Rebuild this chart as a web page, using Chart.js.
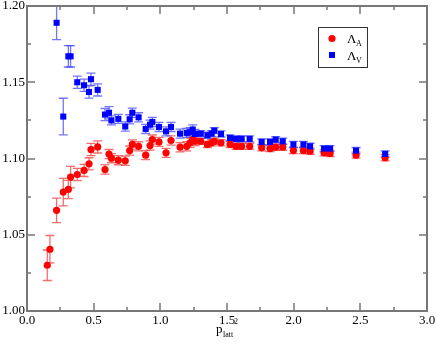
<!DOCTYPE html>
<html>
<head>
<meta charset="utf-8">
<script src="https://cdn.jsdelivr.net/npm/chart.js@4/dist/chart.umd.min.js"></script>
<style>
  html, body { margin: 0; padding: 0; background: #fff; }
  #wrap { width: 436px; height: 347px; position: relative; }
</style>
</head>
<body>
<div id="wrap"><canvas id="chart"></canvas></div>
<script>
// p_latt^2 values (shared by both series)
const xValues = [0.152, 0.172, 0.222, 0.272, 0.31, 0.327, 0.377, 0.428, 0.465, 0.48,
  0.53, 0.585, 0.615, 0.633, 0.685, 0.737, 0.77, 0.79, 0.837, 0.89,
  0.923, 0.94, 0.99, 1.043, 1.08, 1.148, 1.198, 1.223, 1.243, 1.26,
  1.303, 1.353, 1.385, 1.405, 1.455, 1.523, 1.568, 1.61, 1.67, 1.76,
  1.823, 1.865, 1.918, 1.998, 2.073, 2.123, 2.228, 2.273, 2.468, 2.686];

const lambdaA = [1.030, 1.0405, 1.066, 1.078, 1.0797, 1.0878, 1.0895, 1.0922, 1.0965, 1.1059,
  1.1076, 1.0928, 1.1029, 1.1002, 1.0989, 1.0985, 1.1052, 1.1092, 1.108, 1.1022,
  1.1085, 1.1124, 1.1109, 1.1037, 1.1118, 1.1074, 1.108, 1.1103, 1.1124, 1.1115,
  1.1113, 1.1092, 1.1103, 1.1113, 1.1103, 1.1092, 1.108, 1.108, 1.108, 1.107,
  1.1065, 1.1074, 1.1074, 1.1052, 1.1052, 1.1048, 1.1037, 1.1033, 1.1022, 1.1005];
const lambdaAErr = [0.010, 0.009, 0.008, 0.009, 0.006, 0.007, 0.004, 0.004, 0.004, 0.004,
  0.004, 0.003, 0.003, 0.003, 0.003, 0.003, 0.003, 0.003, 0.003, 0.003,
  0.003, 0.003, 0.003, 0.003, 0.003, 0.003, 0.003, 0.003, 0.003, 0.003,
  0.002, 0.002, 0.002, 0.002, 0.002, 0.002, 0.002, 0.002, 0.002, 0.002,
  0.002, 0.002, 0.002, 0.002, 0.002, 0.002, 0.002, 0.002, 0.002, 0.002];

const lambdaV = [null, null, 1.189, 1.1275, 1.167, 1.167, 1.150, 1.148, 1.1436, 1.152,
  1.145, 1.1288, 1.130, 1.125, 1.126, 1.121, 1.1257, 1.130, 1.127, 1.1194,
  1.1222, 1.124, 1.1207, 1.1178, 1.1207, 1.1163, 1.1168, 1.1172, 1.119, 1.1161,
  1.1163, 1.1152, 1.1163, 1.1183, 1.1161, 1.1135, 1.1129, 1.1129, 1.1129, 1.1109,
  1.1109, 1.1124, 1.1113, 1.1092, 1.1092, 1.108, 1.1065, 1.1065, 1.1052, 1.103];
const lambdaVErr = [0, 0, 0.011, 0.012, 0.007, 0.007, 0.004, 0.004, 0.004, 0.004,
  0.004, 0.004, 0.004, 0.003, 0.003, 0.003, 0.003, 0.003, 0.003, 0.003,
  0.003, 0.003, 0.003, 0.003, 0.003, 0.003, 0.003, 0.003, 0.003, 0.003,
  0.002, 0.002, 0.002, 0.002, 0.002, 0.002, 0.002, 0.002, 0.002, 0.002,
  0.002, 0.002, 0.002, 0.002, 0.002, 0.002, 0.002, 0.002, 0.002, 0.002];

const xTicks = [0.0, 0.5, 1.0, 1.5, 2.0, 2.5, 3.0];
const yTicks = [1.00, 1.05, 1.10, 1.15, 1.20];

const serif = '"Liberation Serif", "DejaVu Serif", serif';
const axisColor = '#777';

function toPoints(ys, errs) {
    const pts = [];
    xValues.forEach((x, i) => {
        if (ys[i] !== null) pts.push({ x: x, y: ys[i], err: errs[i] });
    });
    return pts;
}

// error bars, drawn under the markers
const errorBars = {
    id: 'errorBars',
    beforeDatasetsDraw(chart) {
        const ctx = chart.ctx;
        const xs = chart.scales.x, ys = chart.scales.y;
        const area = chart.chartArea;
        ctx.save();
        ctx.beginPath();
        ctx.rect(area.left, area.top, area.right - area.left, area.bottom - area.top);
        ctx.clip();
        chart.data.datasets.forEach(ds => {
            ctx.strokeStyle = ds.barColor;
            ctx.lineWidth = 1.3;
            ds.data.forEach(p => {
                if (!p.err) return;
                const px = xs.getPixelForValue(p.x);
                const top = ys.getPixelForValue(p.y + p.err);
                const bot = ys.getPixelForValue(p.y - p.err);
                ctx.beginPath();
                ctx.moveTo(px, top); ctx.lineTo(px, bot);
                ctx.moveTo(px - 4.5, top); ctx.lineTo(px + 4.5, top);
                ctx.moveTo(px - 4.5, bot); ctx.lineTo(px + 4.5, bot);
                ctx.stroke();
            });
        });
        ctx.restore();
    }
};

// frame with inward ticks on all four sides, axis title and legend
const frame = {
    id: 'frame',
    afterDraw(chart) {
        const ctx = chart.ctx;
        const xs = chart.scales.x, ys = chart.scales.y;
        const a = chart.chartArea;
        ctx.save();
        ctx.strokeStyle = axisColor;
        ctx.lineWidth = 1.5;
        for (let v = 0; v <= 3.0001; v += 0.25) {
            const px = Math.round(xs.getPixelForValue(v));
            const len = Math.abs(v * 2 - Math.round(v * 2)) < 1e-6 ? 8 : 4;
            ctx.beginPath();
            ctx.moveTo(px, a.bottom); ctx.lineTo(px, a.bottom - len);
            ctx.moveTo(px, a.top); ctx.lineTo(px, a.top + len);
            ctx.stroke();
        }
        for (let v = 1.0; v <= 1.2001; v += 0.025) {
            const py = Math.round(ys.getPixelForValue(v));
            const len = Math.abs(v * 20 - Math.round(v * 20)) < 1e-6 ? 8 : 4;
            ctx.beginPath();
            ctx.moveTo(a.left, py); ctx.lineTo(a.left + len, py);
            ctx.moveTo(a.right, py); ctx.lineTo(a.right - len, py);
            ctx.stroke();
        }
        ctx.lineWidth = 2;
        ctx.strokeRect(a.left, a.top, a.right - a.left, a.bottom - a.top);

        // x axis title: p_latt^2
        const cx = (a.left + a.right) / 2;
        ctx.fillStyle = '#000';
        ctx.textBaseline = 'alphabetic';
        ctx.textAlign = 'left';
        ctx.font = '13px ' + serif;
        ctx.fillText('p', cx - 11, 333);
        ctx.font = '8px ' + serif;
        ctx.fillText('latt', cx - 4, 337);
        ctx.fillText('2', cx + 7, 324);

        // legend
        const lx = 318, ly = 27;
        ctx.fillStyle = '#fff';
        ctx.fillRect(lx, ly, 49, 40);
        ctx.strokeStyle = '#333';
        ctx.lineWidth = 1;
        ctx.strokeRect(lx + 0.5, ly + 0.5, 49, 40);
        ctx.fillStyle = '#ff0000';
        ctx.beginPath();
        ctx.arc(lx + 14, ly + 11.5, 3.6, 0, Math.PI * 2);
        ctx.fill();
        ctx.fillStyle = '#0000ff';
        ctx.fillRect(lx + 11, ly + 25, 6, 6);
        ctx.fillStyle = '#000';
        ctx.font = '13px ' + serif;
        ctx.fillText('\u039B', lx + 29, ly + 16);
        ctx.fillText('\u039B', lx + 29, ly + 33);
        ctx.font = '8px ' + serif;
        ctx.fillText('A', lx + 38, ly + 19);
        ctx.fillText('V', lx + 38, ly + 36);
        ctx.restore();
    }
};

function noPad(scale) {
    scale.paddingLeft = 0;
    scale.paddingRight = 0;
    scale.paddingTop = 0;
    scale.paddingBottom = 0;
}

const ctx = document.getElementById('chart').getContext('2d');
new Chart(ctx, {
    type: 'scatter',
    data: {
        datasets: [{
            label: '\u039BA',
            data: toPoints(lambdaA, lambdaAErr),
            backgroundColor: '#ff0000',
            borderColor: '#ff0000',
            barColor: 'rgba(240, 60, 60, 0.75)',
            pointStyle: 'circle',
            pointRadius: 3.6,
            pointBorderWidth: 0,
            order: 1
        }, {
            label: '\u039BV',
            data: toPoints(lambdaV, lambdaVErr),
            backgroundColor: '#0000ff',
            borderColor: '#0000ff',
            barColor: 'rgba(70, 70, 255, 0.75)',
            pointStyle: 'rect',
            pointRadius: 4.3,
            pointBorderWidth: 0,
            order: 0
        }]
    },
    options: {
        responsive: true,
        maintainAspectRatio: false,
        animation: false,
        layout: { padding: { top: 6, right: 9, left: 0, bottom: 0 } },
        plugins: {
            legend: { display: false },
            tooltip: { enabled: false }
        },
        scales: {
            x: {
                type: 'linear',
                min: 0, max: 3,
                grid: { display: false, drawTicks: false },
                border: { display: false },
                afterFit(scale) { scale.height = 36; noPad(scale); },
                afterBuildTicks(scale) { scale.ticks = xTicks.map(v => ({ value: v })); },
                ticks: {
                    color: '#000',
                    padding: 2,
                    maxRotation: 0,
                    autoSkip: false,
                    font: { family: serif, size: 13 },
                    callback: v => v.toFixed(1)
                }
            },
            y: {
                type: 'linear',
                min: 1.0, max: 1.2,
                grid: { display: false, drawTicks: false },
                border: { display: false },
                afterFit(scale) { scale.width = 27; noPad(scale); },
                afterBuildTicks(scale) { scale.ticks = yTicks.map(v => ({ value: v })); },
                ticks: {
                    color: '#000',
                    padding: 2,
                    autoSkip: false,
                    font: { family: serif, size: 13 },
                    callback: v => v.toFixed(2)
                }
            }
        }
    },
    plugins: [errorBars, frame]
});
</script>
</body>
</html>
